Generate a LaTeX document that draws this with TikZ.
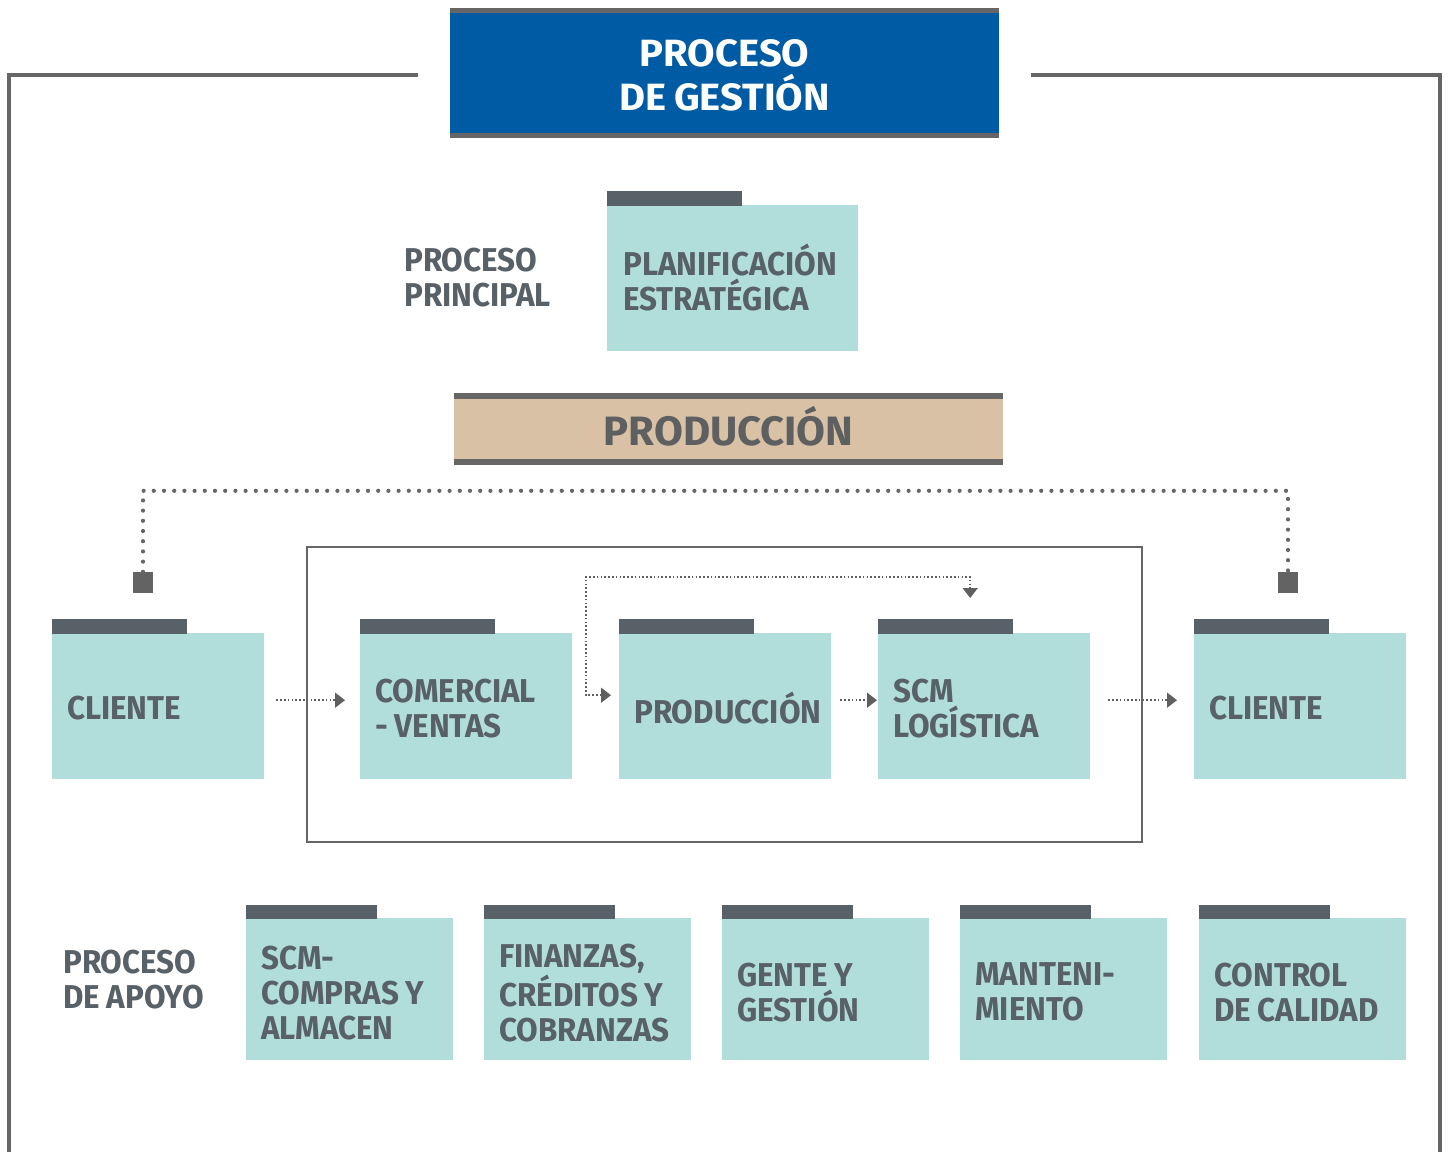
\documentclass[tikz,border=0pt]{standalone}
\usepackage{fontspec}
\setmainfont{Fira Sans}
\newfontfamily\boxfont[FakeStretch=0.95,WordSpace=0.9]{Fira Sans}
\newfontfamily\titlefont[FakeStretch=1.05,WordSpace=0.8]{Fira Sans}
\newfontfamily\bannerfont[FakeStretch=1.02]{Fira Sans}
\usetikzlibrary{arrows.meta}
\definecolor{boxteal}{RGB}{177,222,219}
\definecolor{tabgray}{RGB}{89,97,104}
\definecolor{txtgray}{RGB}{88,96,104}
\definecolor{framegray}{RGB}{102,102,102}
\definecolor{titleblue}{RGB}{0,91,165}
\definecolor{bannertan}{RGB}{216,193,164}
\definecolor{bannertxt}{RGB}{94,95,97}
\definecolor{sqgray}{RGB}{99,99,99}
\definecolor{arrgray}{RGB}{95,95,95}
\newcommand\foldertab[3]{\fill[tabgray] ([yshift=-0.5pt]#1.north west) rectangle ++(#2,-#3);}
% #1 name, #2 position, #3 text, #4 style, #5 tab width, #6 tab height, #7 text yshift
\newcommand\folderbox[7]{%
  \node[#4] (#1) at (#2) {};
  \node[sidelabel] (#1t) at ([xshift=15pt,yshift=#7]#1.west) {#3};
  \foldertab{#1}{#5}{#6}}
\begin{document}
\begin{tikzpicture}[x=1pt,y=-1pt,
  boxtxt/.style={font=\boxfont\bfseries\fontsize{33}{35}\selectfont, text=txtgray},
  folderA/.style={fill=boxteal, inner sep=0pt, minimum width=212pt, minimum height=146pt, anchor=north west},
  folderB/.style={fill=boxteal, inner sep=0pt, minimum width=207pt, minimum height=142pt, anchor=north west},
  folderP/.style={fill=boxteal, inner sep=0pt, minimum width=251pt, minimum height=146pt, anchor=north west},
  sidelabel/.style={boxtxt, inner sep=0pt, align=left, anchor=west},
  sqmark/.style={fill=sqgray, minimum width=20pt, minimum height=21pt, inner sep=0pt},
  bigdots/.style={draw=framegray, line width=4.2pt, line cap=round, dash pattern=on 0pt off 10.2pt},
  flowarr/.style={draw=arrgray, line width=1.5pt, dash pattern=on 1.5pt off 2.3pt,
    -{Triangle[length=10pt,width=15pt]}},
  frameline/.style={draw=framegray, line width=4pt},
  innerframe/.style={draw=framegray, line width=2.2pt}
]
\useasboundingbox (0,0) rectangle (1449,1152);

% title
\node[fill=titleblue, minimum width=549pt, minimum height=130pt, inner sep=0pt, anchor=north west] (ttl) at (450,8) {};
\node[text=white, align=center, inner sep=0pt, font=\titlefont\bfseries\fontsize{38}{44}\selectfont]
  (ttltxt) at ([yshift=-2pt]ttl.center) {PROCESO\\DE GESTIÓN};
\fill[framegray] (ttl.north west) rectangle ([yshift=-5pt]ttl.north east);
\fill[framegray] ([yshift=5pt]ttl.south west) rectangle (ttl.south east);

% outer frame
\draw[frameline] ([xshift=-32pt,yshift=-2pt]ttl.west) -| (9,1152);
\draw[frameline] ([xshift=32pt,yshift=-2pt]ttl.east) -| (1440,1152);

% principal
\node[sidelabel] (pp) at (404,278) {PROCESO\\PRINCIPAL};
\node[folderP] (pe) at (607,205) {};
\node[sidelabel] (pet) at ([xshift=16pt,yshift=1pt]pe.west) {PLANIFICACIÓN\\ESTRATÉGICA};
\foldertab{pe}{135}{15}

% banner
\node[fill=bannertan, minimum width=549pt, minimum height=72pt, inner sep=0pt, anchor=north west] (ban) at (454,393) {};
\node[text=bannertxt, inner sep=0pt, font=\bannerfont\bfseries\fontsize{41}{44}\selectfont] (bantxt)
  at ([yshift=3pt]ban.center) {PRODUCCIÓN};
\fill[framegray] (ban.north west) rectangle ([yshift=-6pt]ban.north east);
\fill[framegray] ([yshift=6pt]ban.south west) rectangle (ban.south east);

% inner frame
\draw[innerframe] (307,547) rectangle (1142,842);

% main row
\folderbox{cl}{52,633}{CLIENTE}{folderA}{135}{15}{-2pt}
\folderbox{cv}{360,633}{COMERCIAL\\- VENTAS}{folderA}{135}{15}{-2pt}
\folderbox{pr}{619,633}{PRODUCCIÓN}{folderA}{135}{15}{-2pt}
\folderbox{sl}{878,633}{SCM\\LOGÍSTICA}{folderA}{135}{15}{-2pt}
\folderbox{cr}{1194,633}{CLIENTE}{folderA}{135}{15}{-2pt}

% squares and big dotted line
\node[sqmark] (sqL) at (143,582.5) {};
\node[sqmark] (sqR) at (1288,582.5) {};
\draw[bigdots] (sqL.north) -- ++(0,-81) -| (sqR.north);

% flow arrows
\draw[flowarr] ([xshift=12pt,yshift=6pt]cl.east) -- ([xshift=-15pt,yshift=6pt]cv.west);
\draw[flowarr] ([xshift=9pt,yshift=6pt]pr.east) -- ([xshift=-1pt,yshift=6pt]sl.west);
\draw[flowarr] ([xshift=18pt,yshift=6pt]sl.east) -- ([xshift=-17pt,yshift=6pt]cr.west);
\coordinate (fbc) at (586,577);
\draw[flowarr, {Triangle[length=10pt,width=15pt]}-{Triangle[length=10pt,width=15pt]}]
  ([xshift=-8pt,yshift=11pt]pr.west) -| (fbc) -| ([xshift=-14pt,yshift=35pt]sl.north);

% support row
\node[sidelabel] (pa) at (63,980) {PROCESO\\DE APOYO};
\folderbox{s1}{246,918}{SCM-\\COMPRAS Y\\ALMACEN}{folderB}{131}{14}{-4pt}
\folderbox{s2}{484,918}{FINANZAS,\\CRÉDITOS Y\\COBRANZAS}{folderB}{131}{14}{-4pt}
\folderbox{s3}{722,918}{GENTE Y\\GESTIÓN}{folderB}{131}{14}{-3pt}
\folderbox{s4}{960,918}{MANTENI-\\MIENTO}{folderB}{131}{14}{-3pt}
\folderbox{s5}{1199,918}{CONTROL\\DE CALIDAD}{folderB}{131}{14}{-3pt}
\end{tikzpicture}
\end{document}
